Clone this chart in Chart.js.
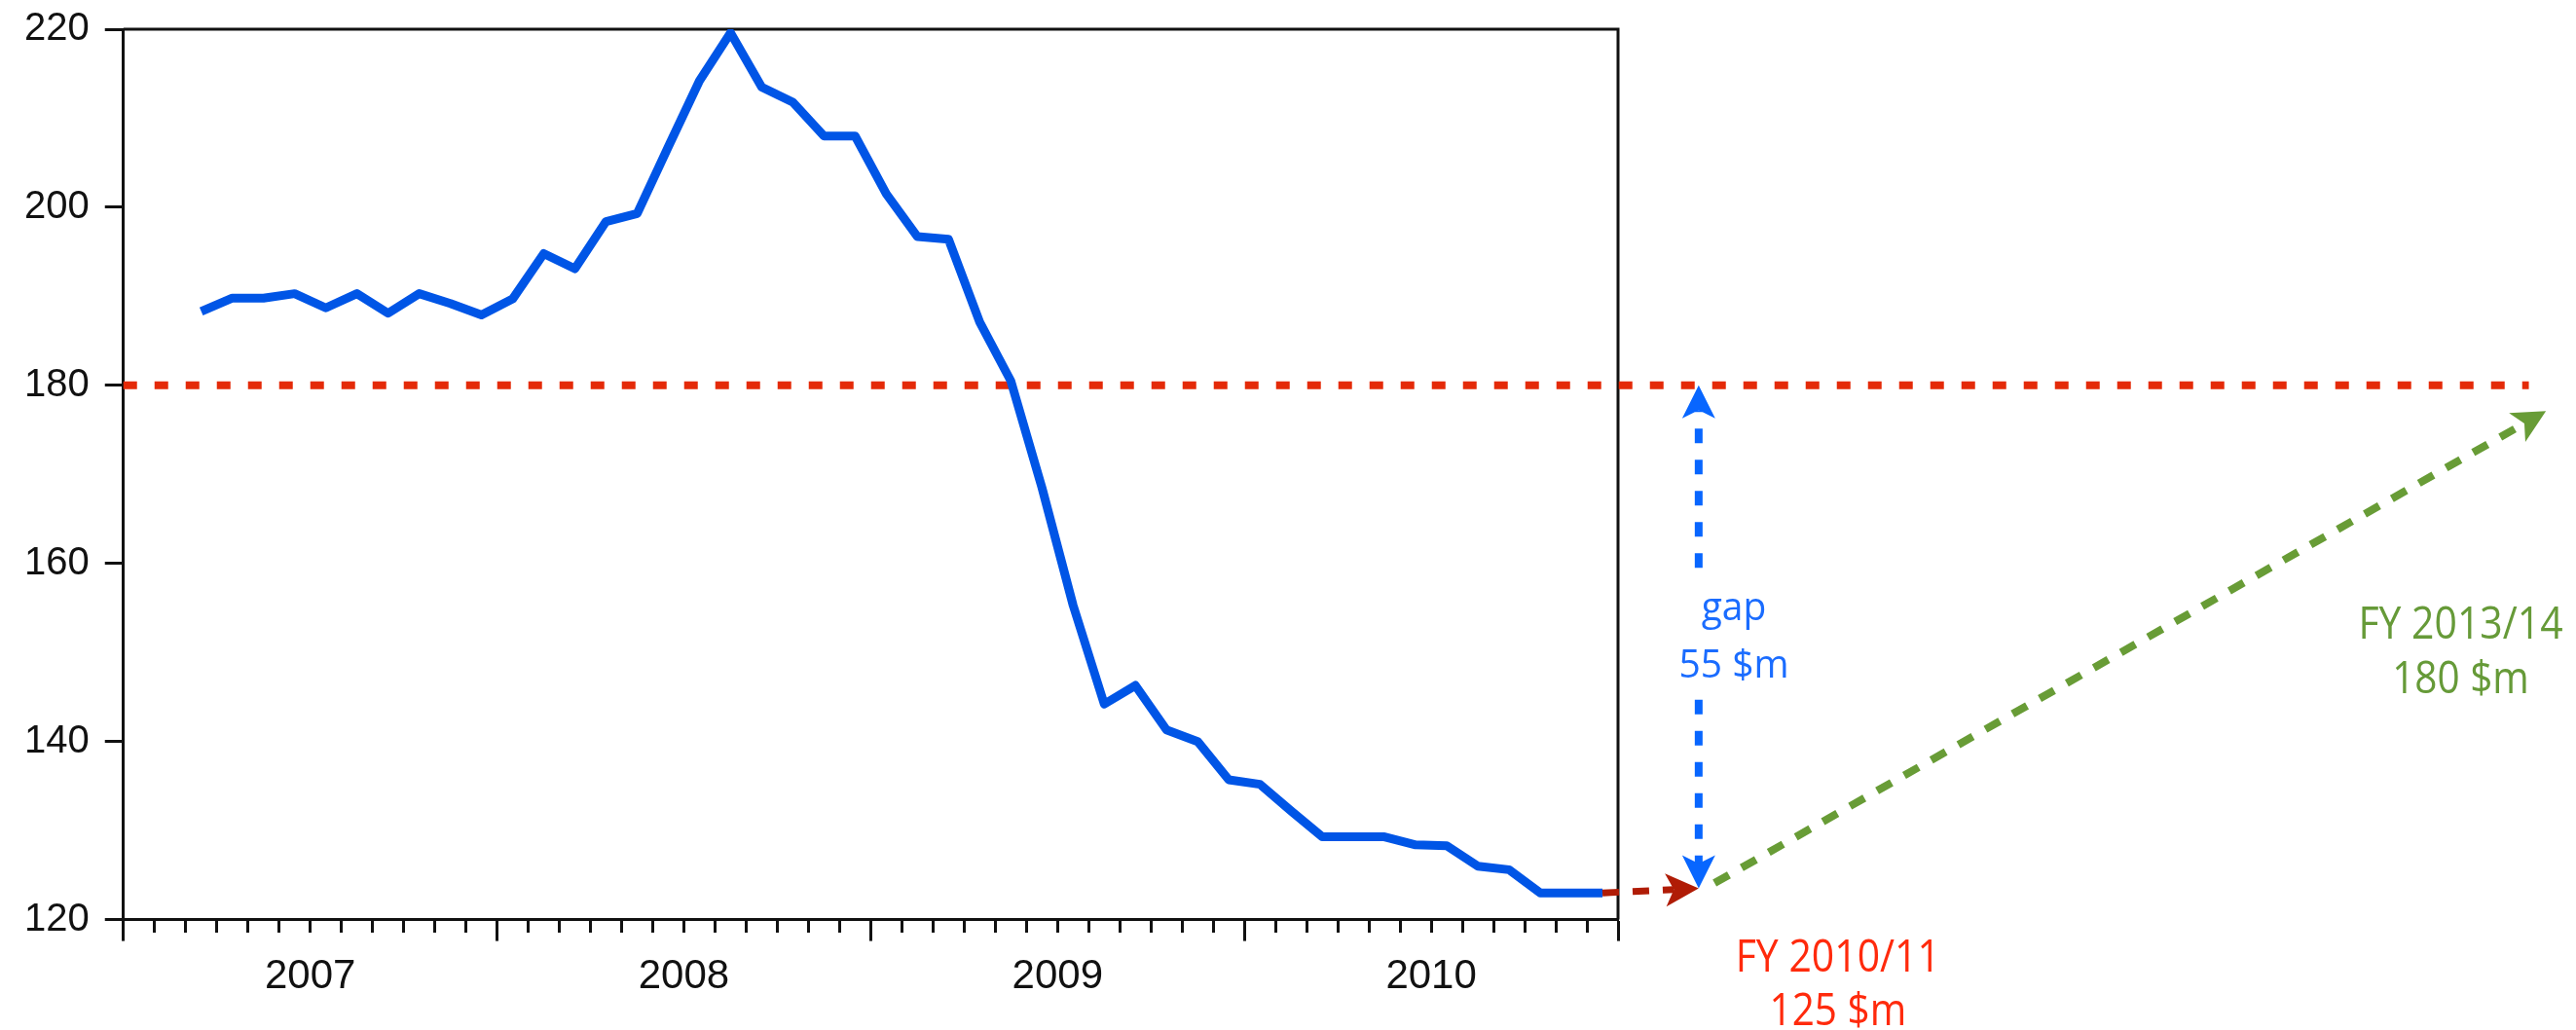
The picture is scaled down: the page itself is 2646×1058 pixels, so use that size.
<!DOCTYPE html>
<html>
<head>
<meta charset="utf-8">
<script src="https://cdn.jsdelivr.net/npm/chart.js@4/dist/chart.umd.min.js"></script>
<style>
  html, body { margin: 0; padding: 0; background: #fff; }
  #wrap { width: 2646px; height: 1058px; }
</style>
</head>
<body>
<div id="wrap"><canvas id="chart" width="2646" height="1058"></canvas></div>
<script>
// monthly series Jan 2007 .. Dec 2010 (first two months have no value)
const years = ['2007', '2008', '2009', '2010'];
const levels = [
  null, null, 188.3, 189.8, 189.8, 190.3, 188.7, 190.3, 188.1, 190.3, 189.2, 187.9,
  189.7, 194.8, 193.1, 198.4, 199.3, 206.8, 214.2, 219.6, 213.5, 211.8, 208.0, 208.0,
  201.5, 196.7, 196.4, 187.1, 180.5, 168.5, 155.3, 144.2, 146.3, 141.3, 140.0, 135.7,
  135.2, 132.2, 129.3, 129.3, 129.3, 128.4, 128.3, 126.0, 125.6, 123.0, 123.0, 123.0
];
const yTicks = [120, 140, 160, 180, 200, 220];
const target = 180;      // FY 2013/14
const current = 125;     // FY 2010/11
const gap = target - current;

const points = levels.map((v, i) => ({ x: i + 0.5, y: v }));

// annotation anchors, in axis units (months from Jan 2007, $m)
const notes = {
  lineEnd: 77.25,
  junction: { x: 50.59, y: 123.5 },
  gapBreak: [159.5, 144.7],
  greenTip: { x: 77.8, y: 177.1 },
  greenStart: { x: 51.1, y: 124.1 },
  gapText: { x: 51.72, y: [153.6, 147.2] },
  nowText: { x: 55.06, y: [114.2, 108.1] },
  goalText: { x: 75.06, y: [151.6, 145.4] }
};

const noteFont = '"Open Sans", "Noto Sans", sans-serif';

function dashedArrow(ctx, x1, y1, x2, y2, color, width, dash) {
  const ang = Math.atan2(y2 - y1, x2 - x1);
  const L = 34, W = 17;
  const bx = x2 - Math.cos(ang) * L * 0.75;
  const by = y2 - Math.sin(ang) * L * 0.75;
  ctx.save();
  ctx.strokeStyle = color;
  ctx.lineWidth = width;
  ctx.setLineDash(dash);
  ctx.beginPath();
  ctx.moveTo(x1, y1);
  ctx.lineTo(bx, by);
  ctx.stroke();
  ctx.setLineDash([]);
  ctx.fillStyle = color;
  ctx.translate(x2, y2);
  ctx.rotate(ang);
  ctx.beginPath();
  ctx.moveTo(0, 0);
  ctx.lineTo(-L, -W);
  ctx.lineTo(-L * 0.75, 0);
  ctx.lineTo(-L, W);
  ctx.closePath();
  ctx.fill();
  ctx.restore();
}

function note(ctx, text, x, y, size, squeeze) {
  ctx.save();
  ctx.font = size + 'px ' + noteFont;
  ctx.translate(x, y);
  ctx.scale(squeeze, 1);
  ctx.fillText(text, 0, 0);
  ctx.restore();
}

const framePlugin = {
  id: 'frame',
  beforeDatasetsDraw(chart) {
    const { ctx, chartArea: a, scales: { x, y } } = chart;
    ctx.save();
    ctx.strokeStyle = '#111';
    ctx.lineWidth = 3;
    ctx.beginPath();
    ctx.moveTo(a.left, a.top);
    ctx.lineTo(a.right, a.top);
    ctx.lineTo(a.right, a.bottom);
    ctx.stroke();
    // target line at 180
    const ty = y.getPixelForValue(target);
    ctx.strokeStyle = '#e42a08';
    ctx.lineWidth = 8;
    ctx.setLineDash([14, 18]);
    ctx.beginPath();
    ctx.moveTo(x.getPixelForValue(0), ty);
    ctx.lineTo(x.getPixelForValue(notes.lineEnd), ty);
    ctx.stroke();
    ctx.restore();
  }
};

const notePlugin = {
  id: 'notes',
  afterDraw(chart) {
    const { ctx, scales: { x, y } } = chart;
    const px = v => x.getPixelForValue(v);
    const py = v => y.getPixelForValue(v);
    const last = levels.length - 1;
    const jx = px(notes.junction.x), jy = py(notes.junction.y);

    // current level carried forward
    dashedArrow(ctx, px(last + 0.5), py(levels[last]), jx, jy, '#b01c06', 7, [17, 14]);
    // gap arrows
    dashedArrow(ctx, jx, py(notes.gapBreak[0]), jx, py(target), '#0866ff', 8, [15, 17]);
    dashedArrow(ctx, jx, py(notes.gapBreak[1]), jx, jy, '#0866ff', 8, [15, 17]);
    // path to target
    dashedArrow(ctx, px(notes.greenStart.x), py(notes.greenStart.y),
      px(notes.greenTip.x), py(notes.greenTip.y), '#689c36', 8, [17, 15]);

    ctx.save();
    ctx.textAlign = 'center';
    ctx.textBaseline = 'alphabetic';
    ctx.fillStyle = '#1a6cff';
    note(ctx, 'gap', px(notes.gapText.x), py(notes.gapText.y[0]), 41, 0.95);
    note(ctx, gap + ' $m', px(notes.gapText.x), py(notes.gapText.y[1]), 41, 0.95);
    ctx.fillStyle = '#ff2a0c';
    note(ctx, 'FY 2010/11', px(notes.nowText.x), py(notes.nowText.y[0]), 45, 0.91);
    note(ctx, current + ' $m', px(notes.nowText.x), py(notes.nowText.y[1]), 45, 0.9);
    ctx.fillStyle = '#669a38';
    note(ctx, 'FY 2013/14', px(notes.goalText.x), py(notes.goalText.y[0]), 45, 0.91);
    note(ctx, target + ' $m', px(notes.goalText.x), py(notes.goalText.y[1]), 45, 0.9);
    ctx.restore();
  }
};

new Chart(document.getElementById('chart'), {
  type: 'line',
  data: {
    datasets: [{
      data: points,
      borderColor: '#0055e6',
      borderWidth: 9,
      pointRadius: 0,
      tension: 0,
      borderJoinStyle: 'round'
    }]
  },
  options: {
    responsive: false,
    animation: false,
    layout: { padding: { left: 9, top: 0, right: 984, bottom: 17 } },
    plugins: { legend: { display: false }, tooltip: { enabled: false } },
    scales: {
      x: {
        type: 'linear',
        min: 0,
        max: 48,
        afterBuildTicks: axis => {
          axis.ticks = Array.from({ length: 49 }, (_, i) => ({ value: i }));
        },
        ticks: {
          autoSkip: false,
          maxRotation: 0,
          font: { family: 'Liberation Sans, Arial, sans-serif', size: 42 },
          color: '#111',
          padding: 12,
          callback: v => ((v - 6) % 12 === 0 ? years[(v - 6) / 12] : '')
        },
        grid: {
          drawOnChartArea: false,
          tickLength: 22,
          tickWidth: 3,
          tickColor: '#111',
          tickBorderDash: c => (c.tick && c.tick.value % 12 === 0 ? [] : [12, 40])
        },
        border: { color: '#111', width: 3 }
      },
      y: {
        min: 120,
        max: 220,
        afterBuildTicks: axis => {
          axis.ticks = yTicks.map(v => ({ value: v }));
        },
        ticks: {
          font: { family: 'Liberation Sans, Arial, sans-serif', size: 40, lineHeight: 0.7 },
          color: '#111',
          padding: 16
        },
        grid: { drawOnChartArea: false, tickLength: 19, tickWidth: 3, tickColor: '#111' },
        border: { color: '#111', width: 3 }
      }
    }
  },
  plugins: [framePlugin, notePlugin]
});
</script>
</body>
</html>
